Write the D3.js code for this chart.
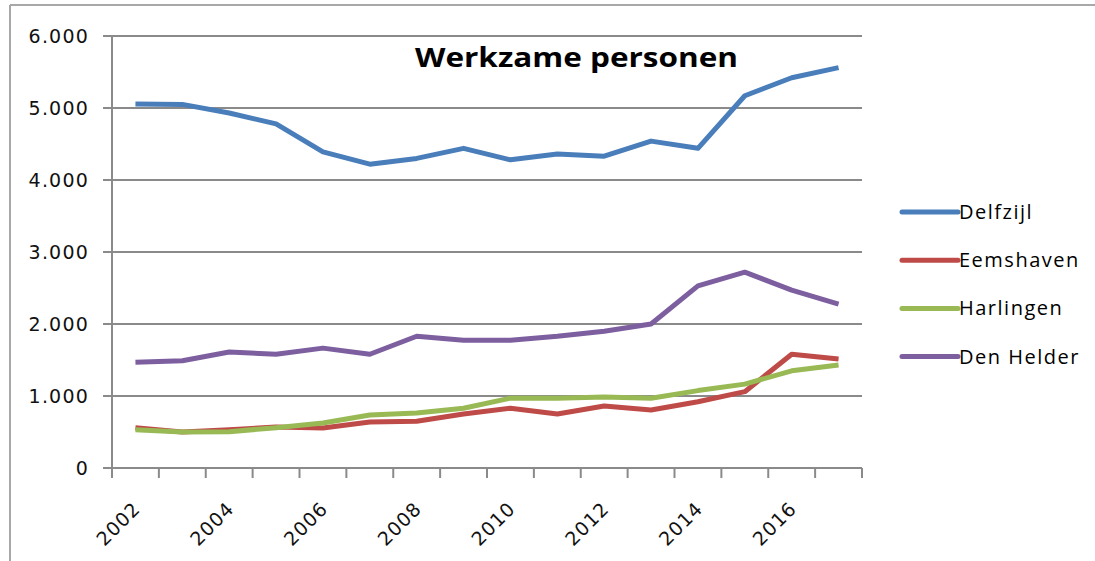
<!DOCTYPE html>
<html>
<head>
  <meta charset="utf-8">
  <title>Werkzame personen</title>
  <script src="https://d3js.org/d3.v7.min.js"></script>
  <style>
    body { margin: 0; background: #fff; }
    svg { display: block; }
  </style>
</head>
<body>
  <div id="chartContainer"></div>
  <script type="text/javascript">
  "use strict";

  // chart data
  var years = ["2002","2003","2004","2005","2006","2007","2008","2009",
               "2010","2011","2012","2013","2014","2015","2016","2017"];
  var yearLabels = ["2002","2004","2006","2008","2010","2012","2014","2016"];
  var yTicks = [0, 1000, 2000, 3000, 4000, 5000, 6000];

  var delfzijl  = [5055, 5050, 4930, 4780, 4390, 4220, 4300, 4440, 4280, 4360, 4330, 4540, 4440, 5170, 5420, 5560];
  var eemshaven = [560, 500, 530, 570, 555, 640, 650, 750, 830, 750, 860, 805, 920, 1060, 1580, 1515];
  var harlingen = [530, 500, 505, 560, 625, 735, 765, 830, 970, 970, 985, 968, 1075, 1165, 1350, 1430];
  var denHelder = [1470, 1490, 1610, 1580, 1665, 1580, 1830, 1775, 1775, 1830, 1900, 2000, 2530, 2720, 2470, 2275];

  var seriesNames = ["Delfzijl", "Eemshaven", "Harlingen", "Den Helder"];
  var seriesValues = [delfzijl, eemshaven, harlingen, denHelder];
  var colors = ["#4a7ebb", "#be4b48", "#98b954", "#7d5fa0"];

  var W = 1095, H = 561;
  var svg = d3.select("#chartContainer").append("svg")
    .attr("width", W).attr("height", H);

  // outer frame (only top and left edge visible)
  svg.append("line").attr("x1", 10).attr("y1", 5).attr("x2", W).attr("y2", 5)
    .attr("stroke", "#a8a8a8").attr("stroke-width", 2);
  svg.append("line").attr("x1", 10).attr("y1", 5).attr("x2", 10).attr("y2", H)
    .attr("stroke", "#a8a8a8").attr("stroke-width", 2);

  var x = d3.scaleBand().domain(years).range([112, 862]);
  var y = d3.scaleLinear().domain([0, 6000]).range([468, 36]);
  var nl = d3.formatLocale({decimal: ",", thousands: ".", grouping: [3], currency: ["€", ""]});
  var fmt = nl.format(",");

  var axisColor = "#8a8a8a";

  // horizontal gridlines + y ticks
  svg.append("g").selectAll("line").data(yTicks).enter().append("line")
    .attr("x1", 103).attr("x2", x.range()[1])
    .attr("y1", function (d) { return y(d); })
    .attr("y2", function (d) { return y(d); })
    .attr("stroke", axisColor).attr("stroke-width", 2);

  // y labels
  svg.append("g").selectAll("text").data(yTicks).enter().append("text")
    .attr("x", 89)
    .attr("y", function (d) { return y(d) + 7; })
    .attr("text-anchor", "end")
    .style("font-family", "DejaVu Sans")
    .style("font-size", "19px")
    .style("letter-spacing", "1.2px")
    .style("fill", "#111")
    .text(function (d) { return fmt(d); });

  // y axis line
  svg.append("line").attr("x1", 112).attr("x2", 112)
    .attr("y1", y(6000)).attr("y2", y(0))
    .attr("stroke", axisColor).attr("stroke-width", 2);

  // x ticks between categories
  var edges = years.map(function (d) { return x(d); }).concat([x.range()[1]]);
  svg.append("g").selectAll("line").data(edges).enter().append("line")
    .attr("x1", function (d) { return d; }).attr("x2", function (d) { return d; })
    .attr("y1", y(0)).attr("y2", y(0) + 10)
    .attr("stroke", axisColor).attr("stroke-width", 2);

  // rotated x labels
  var bw = x.bandwidth();
  svg.append("g").selectAll("text").data(yearLabels).enter().append("text")
    .attr("transform", function (d) {
      return "translate(" + (x(d) + bw / 2 + 6) + "," + 510 + ") rotate(-45)";
    })
    .attr("text-anchor", "end")
    .style("font-family", "DejaVu Sans")
    .style("font-size", "19px")
    .style("letter-spacing", "1px")
    .style("fill", "#111")
    .text(function (d) { return d; });

  // series lines
  var line = d3.line()
    .x(function (d, i) { return x(years[i]) + bw / 2; })
    .y(function (d) { return y(d); });

  svg.append("g").selectAll("path").data(seriesValues).enter().append("path")
    .attr("d", line)
    .attr("fill", "none")
    .attr("stroke", function (d, i) { return colors[i]; })
    .attr("stroke-width", 5)
    .attr("stroke-linejoin", "round");

  // title inside the plot
  svg.append("text")
    .attr("x", 415).attr("y", 67)
    .attr("textLength", 323)
    .attr("lengthAdjust", "spacingAndGlyphs")
    .style("font-family", "Open Sans")
    .style("font-weight", "bold")
    .style("font-size", "26px")
    .style("fill", "#000")
    .text("Werkzame personen");

  // legend
  var legend = svg.append("g").selectAll("g").data(seriesNames).enter().append("g")
    .attr("transform", function (d, i) { return "translate(902," + (212 + i * 48.2) + ")"; });
  legend.append("line")
    .attr("x1", 0).attr("x2", 56).attr("y1", 0).attr("y2", 0)
    .attr("stroke", function (d, i) { return colors[i]; })
    .attr("stroke-width", 5).attr("stroke-linecap", "round");
  legend.append("text")
    .attr("x", 57).attr("y", 7)
    .style("font-family", "Open Sans")
    .style("font-size", "20px")
    .style("letter-spacing", "1.5px")
    .style("fill", "#000")
    .text(function (d) { return d; });
  </script>
</body>
</html>
